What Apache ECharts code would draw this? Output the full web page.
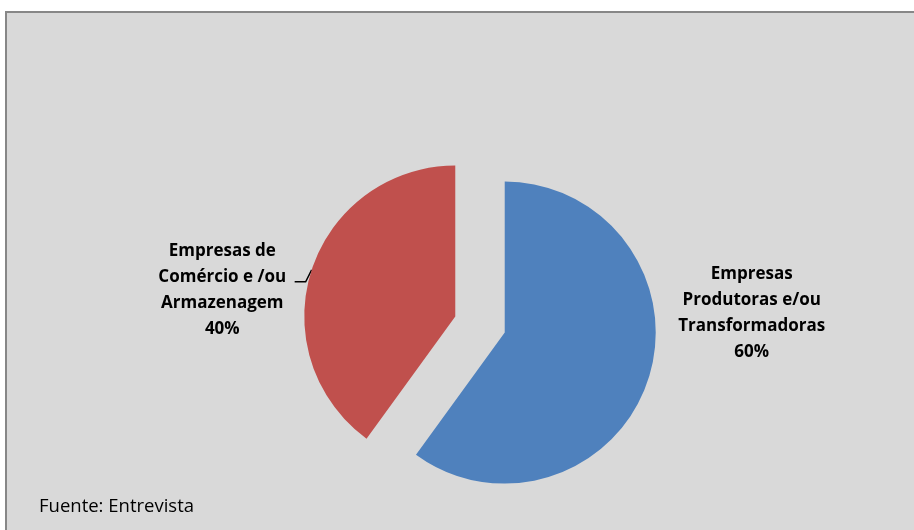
<!DOCTYPE html>
<html>
<head>
<meta charset="utf-8">
<script src="https://cdn.jsdelivr.net/npm/echarts@6/dist/echarts.min.js"></script>
<style>
  html, body { margin: 0; padding: 0; background: #ffffff; }
  #frame {
    position: absolute; left: 5px; top: 11px; width: 909px; height: 519px;
    background: #d9d9d9; border-top: 2px solid #878787; border-left: 2px solid #878787;
    box-sizing: border-box;
  }
  #chart { position: absolute; left: 0; top: 0; width: 914px; height: 530px; }
</style>
</head>
<body>
<div id="frame"></div>
<div id="chart"></div>
<script>
const categories = ['Empresas\nProdutoras e/ou\nTransformadoras', 'Empresas de\nComércio e /ou\nArmazenagem'];
const values = [60, 40];
const colors = ['#4f81bd', '#c0504d'];
const sourceNote = 'Fuente: Entrevista';

const explode = 26;
// label block centres, relative to the un-exploded pie (the slice offset is added on top)
const labelCentres = [[727, 305], [247, 298]];

const chart = echarts.init(document.getElementById('chart'), null, { renderer: 'canvas' });

chart.setOption({
  backgroundColor: 'transparent',
  animation: false,
  graphic: [{
    type: 'text',
    left: 39,
    top: 497,
    style: {
      text: sourceNote,
      fontFamily: 'Open Sans',
      fontSize: 18.5,
      fill: '#000000'
    }
  }],
  series: [{
    type: 'pie',
    center: [480, 324.5],
    radius: 151,
    startAngle: 90,
    clockwise: true,
    selectedMode: 'multiple',
    selectedOffset: explode,
    emphasis: { disabled: true },
    itemStyle: { borderWidth: 0 },
    label: {
      position: 'outside',
      formatter: '{b}\n{d}%',
      fontFamily: 'Open Sans',
      fontWeight: 'bold',
      fontSize: 17,
      lineHeight: 26,
      color: '#000000'
    },
    labelLine: {
      show: true,
      length: 10,
      length2: 10,
      lineStyle: { color: '#000000', width: 1.5 }
    },
    labelLayout: function (params) {
      const r = params.labelRect;
      const c = labelCentres[params.dataIndex];
      // anchor of the default placement, which the centred text keeps
      const anchorX = params.align === 'left' ? r.x
        : params.align === 'right' ? r.x + r.width
        : r.x + r.width / 2;
      const out = {
        dx: c[0] - anchorX,
        dy: c[1] - (r.y + r.height / 2),
        align: 'center'
      };
      if (params.dataIndex === 1 && params.labelLinePoints) {
        const p0 = params.labelLinePoints[0];
        out.labelLinePoints = [p0, [p0[0] - 6, p0[1] + 12], [p0[0] - 17, p0[1] + 12]];
      }
      return out;
    },
    data: categories.map((name, i) => ({
      name: name,
      value: values[i],
      selected: true,
      itemStyle: { color: colors[i] },
      labelLine: { show: i === 1 }
    }))
  }]
});
</script>
</body>
</html>
